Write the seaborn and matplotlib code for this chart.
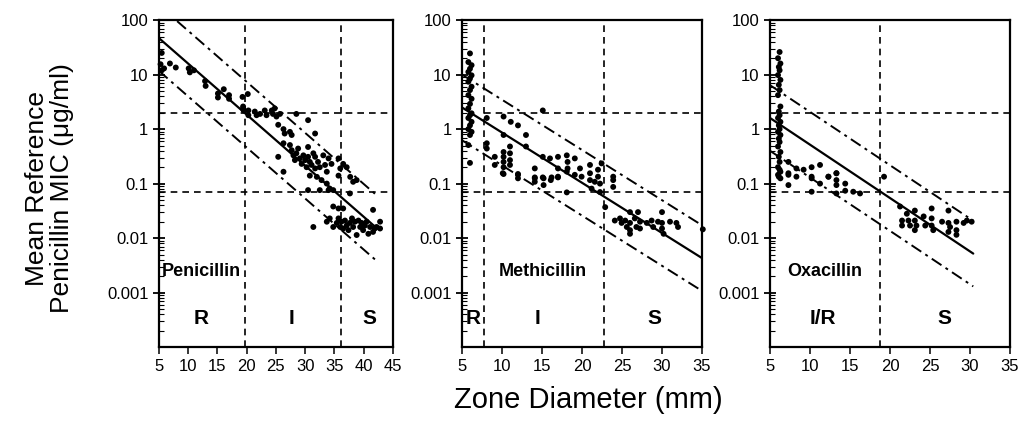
import numpy as np
import seaborn as sns
import matplotlib.pyplot as plt
from matplotlib.ticker import FixedLocator, FixedFormatter, LogLocator, NullFormatter

sns.set_style('ticks')
plt.rcParams['font.family'] = ['Liberation Sans Narrow', 'Liberation Sans', 'DejaVu Sans']
plt.rcParams['text.color'] = 'black'
plt.rcParams['xtick.color'] = 'black'
plt.rcParams['ytick.color'] = 'black'

# ---------------------------------------------------
# Data (zone diameter in mm, MIC in ug/ml)
# ---------------------------------------------------
pen_zone = [5.5, 5.3, 5.9, 5.5, 6.9, 7.9, 10.1, 10.3, 11.0, 12.9, 13.0, 15.1, 15.1, 16.1, 17.0, 17.0,
            19.3, 20.2, 19.4, 19.5, 20.3,
            19.4, 20.3, 21.4, 21.7, 22.3, 23.1, 23.4, 24.3, 24.5, 24.8, 25.1, 25.4, 25.7, 26.3, 26.5,
            27.4, 27.7, 28.5, 30.5, 31.7, 25.4, 26.3, 26.3, 27.4, 27.7, 28.0, 28.25, 28.5, 28.8, 29.1,
            29.4, 29.7, 30.0, 30.25, 30.5, 30.5, 30.8, 30.8, 31.1, 31.4, 31.7, 31.7, 32.0, 32.2, 32.5,
            32.8, 33.1, 33.4, 33.7, 33.7, 34.0, 34.2, 34.5, 34.8, 35.7, 35.7, 36.0, 36.5, 37.1, 37.7,
            37.65, 38.2, 38.8, 30.5, 32.5, 34.0, 34.8, 35.7, 36.5, 41.6, 31.4, 33.7, 34.2, 34.8, 35.4,
            35.7, 36.0, 36.2, 36.5, 36.8, 37.1, 37.4, 37.65, 38.0, 38.2, 38.5, 38.8, 39.1, 39.4, 39.65,
            39.9, 40.2, 40.5, 40.8, 41.1, 41.6, 41.9, 42.2, 42.8, 42.8]
pen_mic = [25, 15.5, 13, 12, 16, 13.5, 13, 11, 12, 7.6, 6.2, 4.5, 3.8, 5.4, 4.2, 3.6,
           3.9, 4.4, 2.6, 2.2, 1.8,
           2.4, 2.2, 2.1, 1.8, 1.9, 2.2, 1.8, 2.2, 1.9, 2.4, 1.7, 1.2, 1.9, 1.0, 0.83,
           0.89, 0.78, 1.9, 1.46, 0.83, 0.31, 0.165, 0.55, 0.51, 0.41, 0.33, 0.27, 0.36, 0.44, 0.29,
           0.23, 0.33, 0.27, 0.20, 0.47, 0.31, 0.25, 0.14, 0.22, 0.36, 0.31, 0.19, 0.133, 0.25, 0.20,
           0.116, 0.33, 0.22, 0.165, 0.10, 0.29, 0.081, 0.23, 0.076, 0.29, 0.14, 0.19, 0.23, 0.20, 0.133,
           0.066, 0.108, 0.116, 0.076, 0.076, 0.076, 0.038, 0.035, 0.035, 0.033, 0.016, 0.020, 0.023, 0.016, 0.019,
           0.023, 0.016, 0.020, 0.015, 0.021, 0.017, 0.014, 0.019, 0.023, 0.016, 0.020, 0.0114, 0.021, 0.016, 0.019,
           0.014, 0.017, 0.020, 0.012, 0.016, 0.013, 0.015, 0.016, 0.020, 0.015]

met_zone = [6.0, 5.8, 6.2, 6.0, 5.8, 6.2, 6.0, 5.8, 6.2, 6.0, 5.8, 6.2, 6.0, 5.8, 6.2, 6.0,
            5.8, 6.2, 6.0, 5.8, 6.2, 6.0, 5.8, 6.0,
            8.1, 8.1, 8.1, 9.1, 9.1, 10.2, 10.2, 10.2, 10.2, 10.2, 10.2, 10.2, 11.0, 11.0, 11.0, 11.0,
            11.1, 12.0, 12.0, 13.0, 13.0, 14.1, 14.1, 15.1, 15.1, 15.1, 16.0, 16.2, 17.0, 17.0, 17.0,
            18.1, 18.2, 18.2, 19.1,
            10.1, 12.0, 12.0, 14.1, 14.1, 15.2, 15.2, 16.1, 17.0, 18.1, 18.1, 19.1,
            19.75, 19.95, 21.0, 21.0, 21.0, 21.2, 21.6, 22.0, 22.0, 22.25, 22.25, 22.45, 22.9, 23.9,
            23.9, 23.9, 24.1, 24.75, 24.95, 25.4, 25.6, 26.0, 26.0, 26.0, 26.0, 26.6, 26.8, 27.0, 27.25,
            27.25, 28.1, 28.7, 28.9, 29.5, 30.0, 30.0, 30.0, 30.2, 31.0, 31.8, 32.0, 35.1]
met_mic = [24.5, 17, 14.9, 12.8, 11.2, 9.7, 8.5, 7.4, 6.0, 5.2, 4.2, 3.6, 2.9, 2.4, 1.95, 1.8,
           1.6, 1.36, 1.17, 1.0, 0.89, 0.78, 0.51, 0.24,
           1.6, 0.55, 0.44, 0.31, 0.22, 1.7, 0.78, 0.38, 0.31, 0.25, 0.20, 0.15, 0.48, 0.36, 0.27, 0.22,
           1.36, 1.17, 0.15, 0.78, 0.48, 0.19, 0.13, 2.2, 0.31, 0.13, 0.29, 0.13, 0.31, 0.19, 0.13,
           0.33, 0.25, 0.19, 0.29,
           0.155, 0.145, 0.125, 0.125, 0.108, 0.094, 0.125, 0.116, 0.134, 0.166, 0.069, 0.145,
           0.19, 0.134, 0.22, 0.155, 0.116, 0.081, 0.108, 0.18, 0.134, 0.10, 0.07, 0.235, 0.037, 0.134,
           0.116, 0.087, 0.021, 0.023, 0.019, 0.021, 0.016, 0.030, 0.019, 0.014, 0.012, 0.023, 0.016, 0.030, 0.020,
           0.015, 0.019, 0.021, 0.016, 0.020, 0.030, 0.019, 0.015, 0.012, 0.020, 0.019, 0.016, 0.0145]

oxa_zone = [6.2, 6.0, 6.3, 6.1, 6.2, 6.0, 6.3, 6.1, 6.2, 6.0, 6.3, 6.1, 6.2, 6.0, 6.3, 6.1,
            6.2, 6.0, 6.3, 6.1, 6.2, 6.0, 6.3, 6.1, 6.2, 6.0, 6.3, 6.1, 6.2, 6.0, 6.3,
            7.3, 7.3, 8.3, 9.2, 10.2, 10.2, 11.25, 12.3, 13.3, 19.25,
            7.3, 7.3, 8.3, 10.2, 10.2, 11.25, 12.3, 13.3, 13.3, 13.3, 13.3, 14.4, 14.4, 15.4, 16.25,
            21.25, 21.5, 21.5, 22.1, 22.3, 22.5, 23.1, 23.1, 23.1, 23.3, 24.2, 24.4, 25.2, 25.2, 25.2,
            25.4, 26.5, 27.3, 27.3, 27.3, 27.5, 28.3, 28.3, 28.3, 29.2, 29.6, 30.2]
oxa_mic = [26, 20, 16, 13.8, 12, 9.8, 8, 6.5, 5.2, 4.2, 2.6, 2.1, 1.8, 1.6, 1.36, 1.17,
           1.0, 0.89, 0.78, 0.67, 0.58, 0.48, 0.38, 0.31, 0.25, 0.20, 0.165, 0.134, 0.18, 0.145, 0.125,
           0.25, 0.155, 0.19, 0.18, 0.20, 0.134, 0.22, 0.134, 0.155, 0.134,
           0.145, 0.094, 0.134, 0.125, 0.071, 0.10, 0.134, 0.155, 0.116, 0.094, 0.066, 0.10, 0.074, 0.071, 0.066,
           0.038, 0.021, 0.017, 0.028, 0.021, 0.017, 0.032, 0.021, 0.014, 0.017, 0.025, 0.017, 0.035, 0.023, 0.017,
           0.014, 0.020, 0.032, 0.019, 0.013, 0.016, 0.020, 0.014, 0.0115, 0.019, 0.021, 0.020]

# regression line end points and the +/- band factor
pen_line_zone = [5, 42.3]
pen_line_mic = [47, 0.015]
met_line_zone = [5, 35]
met_line_mic = [2.5, 0.0043]
oxa_line_zone = [5, 30.4]
oxa_line_mic = [1.6, 0.0052]
band_factor = 4.0

# interpretive breakpoints
mic_breaks = [2, 0.07]
pen_zone_breaks = [19.7, 36.2]
met_zone_breaks = [7.75, 22.7]
oxa_zone_breaks = [18.8]

drugs = ['Penicillin', 'Methicillin', 'Oxacillin']
xmax = [45, 35, 35]
cat_labels = [['R', 'I', 'S'], ['R', 'I', 'S'], ['I/R', 'S']]
cat_pos = [[12.2, 27.7, 40.9], [6.4, 14.4, 29.1], [11.6, 26.8]]
drug_pos = [12.3, 15.1, 11.9]

zones = [pen_zone, met_zone, oxa_zone]
mics = [pen_mic, met_mic, oxa_mic]
line_zones = [pen_line_zone, met_line_zone, oxa_line_zone]
line_mics = [pen_line_mic, met_line_mic, oxa_line_mic]
zone_breaks = [pen_zone_breaks, met_zone_breaks, oxa_zone_breaks]

fig = plt.figure(figsize=(10.18, 4.28), dpi=100)
rects = [[0.156, 0.189, 0.230, 0.764],
         [0.4538, 0.189, 0.2358, 0.764],
         [0.7564, 0.189, 0.2358, 0.764]]

for i in range(3):
    ax = fig.add_axes(rects[i])
    ax.set_yscale('log')
    ax.set_xlim(5, xmax[i])
    ax.set_ylim(1e-4, 100)

    # breakpoint lines
    for zb in zone_breaks[i]:
        ax.axvline(zb, color='black', lw=1.2, ls=(0, (4, 3)), zorder=1)
    for j, mb in enumerate(mic_breaks):
        x0 = 5
        if i == 1 and j == 0:
            x0 = met_zone_breaks[0]
        ax.plot([x0, xmax[i]], [mb, mb], color='black', lw=1.2, ls=(0, (4, 3)), zorder=1)

    # regression line and band
    lz = np.array(line_zones[i])
    lm = np.array(line_mics[i])
    sns.lineplot(x=lz, y=lm, ax=ax, color='black', lw=1.6, zorder=2)
    sns.lineplot(x=lz, y=lm * band_factor, ax=ax, color='black', lw=1.4,
                 linestyle=(0, (6, 2.5, 1.5, 2.5)), zorder=2)
    sns.lineplot(x=lz, y=lm / band_factor, ax=ax, color='black', lw=1.4,
                 linestyle=(0, (6, 2.5, 1.5, 2.5)), zorder=2)

    sns.scatterplot(x=zones[i], y=mics[i], ax=ax, color='black', s=18,
                    edgecolor='none', zorder=3, clip_on=False)

    ax.text(drug_pos[i], 0.0024, drugs[i], ha='center', va='center',
            fontsize=13, fontweight='bold')
    for lab, xp in zip(cat_labels[i], cat_pos[i]):
        ax.text(xp, 0.00033, lab, ha='center', va='center', fontsize=15, fontweight='bold')

    ax.set_xticks(np.arange(5, xmax[i] + 1, 5))
    ax.yaxis.set_major_locator(FixedLocator([1e-3, 1e-2, 1e-1, 1, 10, 100]))
    ax.yaxis.set_major_formatter(FixedFormatter(['0.001', '0.01', '0.1', '1', '10', '100']))
    ax.yaxis.set_minor_locator(LogLocator(base=10, subs=np.arange(2, 10), numticks=20))
    ax.yaxis.set_minor_formatter(NullFormatter())
    ax.tick_params(axis='y', which='major', direction='inout', length=8, width=1.3, labelsize=12)
    ax.tick_params(axis='y', which='minor', direction='in', length=3.5, width=0.8)
    ax.tick_params(axis='x', which='major', direction='out', length=5, width=1.1, labelsize=12)
    for sp in ax.spines.values():
        sp.set_linewidth(1.6)
        sp.set_color('black')
    ax.set_xlabel('')
    ax.set_ylabel('')

fig.text(0.049, 0.56, 'Mean Reference\nPenicillin MIC (\u03bcg/ml)', rotation=90,
         ha='center', va='center', fontsize=19, linespacing=1.05,
         family=['Liberation Sans', 'DejaVu Sans'])
fig.text(0.578, 0.065, 'Zone Diameter (mm)', ha='center', va='center', fontsize=21,
         family=['Liberation Sans', 'DejaVu Sans'])

fig.savefig('out.png', dpi=100)
